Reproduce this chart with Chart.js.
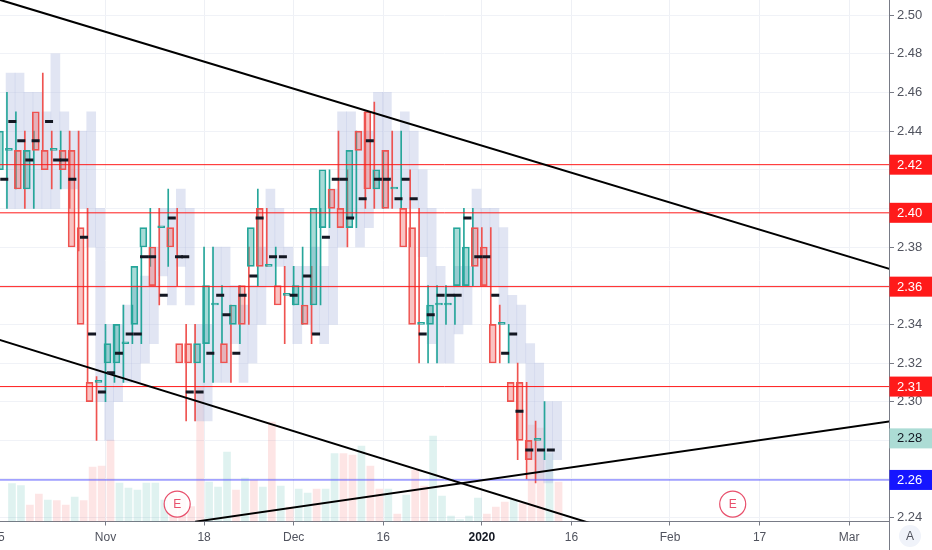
<!DOCTYPE html>
<html>
<head>
<meta charset="utf-8">
<script src="https://cdn.jsdelivr.net/npm/chart.js@4.4.1/dist/chart.umd.min.js"></script>
<style>
html, body { margin: 0; padding: 0; background: #fff; }
#wrap { width: 932px; height: 550px; position: relative; }
</style>
</head>
<body>
<div id="wrap"><canvas id="chart"></canvas></div>
<script>
// trading days shown as candles
const days = ['Oct 16','Oct 17','Oct 18','Oct 21','Oct 22','Oct 23','Oct 24','Oct 25','Oct 28','Oct 29','Oct 30','Oct 31',
  'Nov 1','Nov 4','Nov 5','Nov 6','Nov 7','Nov 8','Nov 11','Nov 12','Nov 13','Nov 14','Nov 15','Nov 18','Nov 19','Nov 20','Nov 21','Nov 22','Nov 25','Nov 26','Nov 27','Nov 28','Nov 29',
  'Dec 2','Dec 3','Dec 4','Dec 5','Dec 6','Dec 9','Dec 10','Dec 11','Dec 12','Dec 13','Dec 16','Dec 17','Dec 18','Dec 19','Dec 20','Dec 23','Dec 24','Dec 26','Dec 27','Dec 30','Dec 31',
  'Jan 2','Jan 3','Jan 6','Jan 7','Jan 8','Jan 9','Jan 10','Jan 13'];
const firstPos = -12; // bar index of Oct 16, Nov 1 = 0

const openP = [2.42, 2.42, 2.43, 2.43, 2.41, 2.45, 2.43, 2.43, 2.43, 2.43, 2.39, 2.31,
  2.31, 2.32, 2.32, 2.33, 2.34, 2.38, 2.38, 2.39, 2.39, 2.33, 2.33, 2.32,
  2.33, 2.35, 2.33, 2.34, 2.36, 2.37, 2.40, 2.37, 2.36, 2.355, 2.35, 2.35,
  2.35, 2.39, 2.41, 2.40, 2.39, 2.44, 2.45, 2.41, 2.43, 2.41, 2.40, 2.39,
  2.34, 2.34, 2.35, 2.35, 2.36, 2.36, 2.39, 2.38, 2.34, 2.34, 2.31, 2.31, 2.28, 2.28];
const highP = [2.43, 2.46, 2.45, 2.44, 2.44, 2.47, 2.44, 2.44, 2.44, 2.44, 2.40, 2.313,
  2.34, 2.34, 2.35, 2.35, 2.38, 2.40, 2.40, 2.41, 2.40, 2.34, 2.34, 2.38,
  2.38, 2.36, 2.35, 2.36, 2.38, 2.41, 2.40, 2.38, 2.37, 2.37, 2.38, 2.37,
  2.40, 2.42, 2.44, 2.42, 2.44, 2.45, 2.455, 2.43, 2.44, 2.44, 2.42, 2.40,
  2.36, 2.36, 2.36, 2.355, 2.40, 2.40, 2.39, 2.39, 2.35, 2.34, 2.32, 2.31, 2.29, 2.30];
const lowP = [2.40, 2.40, 2.41, 2.40, 2.40, 2.43, 2.41, 2.41, 2.40, 2.378, 2.31, 2.28,
  2.30, 2.31, 2.31, 2.33, 2.33, 2.37, 2.35, 2.37, 2.36, 2.29, 2.29, 2.31,
  2.31, 2.33, 2.31, 2.33, 2.34, 2.36, 2.37, 2.36, 2.33, 2.35, 2.34, 2.33,
  2.35, 2.39, 2.40, 2.38, 2.39, 2.40, 2.40, 2.40, 2.40, 2.40, 2.38, 2.32,
  2.32, 2.32, 2.34, 2.34, 2.36, 2.36, 2.36, 2.34, 2.32, 2.32, 2.27, 2.26, 2.258, 2.27];
const closeP = [2.41, 2.44, 2.431, 2.41, 2.43, 2.43, 2.42, 2.431, 2.42, 2.38, 2.34, 2.30,
  2.311, 2.33, 2.34, 2.331, 2.37, 2.39, 2.36, 2.391, 2.38, 2.32, 2.32, 2.33,
  2.36, 2.351, 2.32, 2.35, 2.34, 2.39, 2.37, 2.371, 2.35, 2.356, 2.36, 2.34,
  2.40, 2.42, 2.40, 2.39, 2.43, 2.43, 2.41, 2.42, 2.40, 2.411, 2.38, 2.34,
  2.341, 2.35, 2.351, 2.351, 2.39, 2.38, 2.37, 2.36, 2.32, 2.341, 2.30, 2.28, 2.27, 2.281];

// compare symbol range (light boxes)
const shadowHigh = [2.47, 2.47, 2.46, 2.46, 2.45, 2.48, 2.45, 2.44, 2.44, 2.45, 2.40, 2.34,
  2.34, 2.35, 2.36, 2.365, 2.38, 2.40, 2.40, 2.41, 2.40, 2.34, 2.34, 2.38,
  2.38, 2.36, 2.35, 2.36, 2.38, 2.41, 2.40, 2.38, 2.37, 2.37, 2.38, 2.37,
  2.41, 2.45, 2.45, 2.44, 2.44, 2.46, 2.46, 2.44, 2.45, 2.44, 2.42, 2.40,
  2.37, 2.36, 2.37, 2.37, 2.41, 2.40, 2.40, 2.39, 2.355, 2.35, 2.33, 2.32, 2.30, 2.30];
const shadowLow = [2.40, 2.40, 2.40, 2.40, 2.40, 2.40, 2.41, 2.41, 2.40, 2.38, 2.30, 2.28,
  2.30, 2.31, 2.31, 2.32, 2.33, 2.365, 2.35, 2.37, 2.35, 2.29, 2.29, 2.31,
  2.31, 2.33, 2.31, 2.32, 2.34, 2.36, 2.37, 2.36, 2.33, 2.34, 2.335, 2.33,
  2.34, 2.38, 2.395, 2.38, 2.39, 2.40, 2.40, 2.40, 2.40, 2.40, 2.375, 2.33,
  2.32, 2.32, 2.335, 2.34, 2.36, 2.36, 2.36, 2.34, 2.32, 2.32, 2.27, 2.26, 2.258, 2.27];

// volume (thousands) and direction
const volume = [380, 360, 165, 275, 215, 210, 165, 245, 210, 545, 555, 815,
  385, 335, 315, 385, 385, 215, 265, 265, 150, 1350, 395, 345,
  695, 315, 435, 415, 345, 995, 355, 145, 325, 285, 325, 325,
  680, 680, 665, 755, 555, 325, 325, 75, 265, 515, 355, 855,
  255, 55, 20, 55, 235, 75, 145, 195, 215, 180, 965, 935, 680, 395];
const volDir = 'uudduddudddduuuuuudddduuududududuuduudduddududduuuuuudddudddu'.split('');

// black dash marks
const dashPos = [-11.3, -10.4, -9.4, -8.5, -7.8, -6.3, -5.4, -4.6, -3.7, -2.4, -1.5, -0.4, 0.6, 1.5, 2.7, 3.6,
  4.3, 5.2, 6.5, 7.4, 8.2, 8.9, 9.4, 10.5, 11.7, 12.8, 13.5, 14.6, 15.3, 16.5, 17.2, 18.7, 19.8, 21.0,
  22.5, 23.5, 24.6, 25.7, 26.6, 27.3, 28.7, 29.5, 30.4, 31.4, 32.7, 33.5, 34.4, 35.4, 36.3, 37.4, 38.5,
  39.3, 40.4, 41.6, 42.5, 43.5, 44.6, 45.5, 46.2, 47.3, 48.6, 49.7];
const dashVal = [2.415, 2.445, 2.435, 2.425, 2.435, 2.445, 2.425, 2.425, 2.415, 2.385, 2.335, 2.305, 2.315, 2.325, 2.335, 2.335,
  2.375, 2.375, 2.355, 2.395, 2.375, 2.375, 2.305, 2.305, 2.325, 2.355, 2.345, 2.325, 2.355, 2.365, 2.395, 2.375, 2.375, 2.355,
  2.365, 2.335, 2.385, 2.415, 2.415, 2.395, 2.405, 2.435, 2.415, 2.415, 2.405, 2.415, 2.405, 2.335, 2.345, 2.355, 2.355,
  2.355, 2.395, 2.375, 2.375, 2.355, 2.325, 2.335, 2.295, 2.275, 2.275, 2.275];

// horizontal levels
const levels = [2.4226, 2.3977, 2.3595, 2.3078];
const levelLabels = ['2.42', '2.40', '2.36', '2.31'];
const supportLevel = 2.2595;
const supportLabel = '2.26';

// trend lines [index, price]
const trendStart = [[-12, 2.5082], [-12, 2.3322], [10, 2.2379]];
const trendEnd = [[88, 2.3680], [56, 2.2344], [88, 2.2901]];

// earnings markers
const earnPos = [8, 70];
const earnPrice = 2.247;

// axes
const xTickPos = [-12, 0, 11, 21, 31, 42, 52, 63, 73, 83];
const xTickText = ['15', 'Nov', '18', 'Dec', '16', '2020', '16', 'Feb', '17', 'Mar'];
const yTicks = [2.24, 2.26, 2.28, 2.30, 2.32, 2.34, 2.36, 2.38, 2.40, 2.42, 2.44, 2.46, 2.48, 2.50];

const X_MIN = -11.775, X_MAX = 87.444;
const Y_MIN = 2.2380, Y_MAX = 2.5078;

const UP = '#26a69a', DN = '#ef5350';
const UP_FILL = 'rgba(38,166,154,0.4)', DN_FILL = 'rgba(239,83,80,0.35)';
const RED_LINE = '#ff1a1a';

Chart.defaults.font.family = '"Liberation Sans", Arial, sans-serif';

const pos = days.map((d, k) => k + firstPos);
function isUp(k) { return closeP[k] >= openP[k]; }

function hiddenX() {
    return { type: 'linear', min: X_MIN, max: X_MAX, offset: false, display: false };
}

var datasets = [];

// black dashes on top
datasets.push({
    type: 'line', xAxisID: 'x', yAxisID: 'y', order: 0, showLine: false,
    data: dashPos.map((p, k) => ({ x: p, y: dashVal[k] })),
    pointStyle: 'line', pointRadius: 4, pointHoverRadius: 4,
    pointBorderColor: '#131722', pointBorderWidth: 3
});

// earnings circles
datasets.push({
    type: 'line', xAxisID: 'x', yAxisID: 'y', order: 0, showLine: false,
    data: earnPos.map(p => ({ x: p, y: earnPrice })),
    pointStyle: 'circle', pointRadius: 13, pointHoverRadius: 13,
    pointBorderColor: '#e8506c', pointBorderWidth: 1.2,
    pointBackgroundColor: 'rgba(255,255,255,0.85)'
});

// trend lines
trendStart.forEach((s, k) => {
    datasets.push({
        type: 'line', xAxisID: 'x', yAxisID: 'y', order: 1,
        data: [{ x: s[0], y: s[1] }, { x: trendEnd[k][0], y: trendEnd[k][1] }],
        borderColor: '#000', borderWidth: 2, pointRadius: 0
    });
});

// horizontal levels
levels.forEach(v => {
    datasets.push({
        type: 'line', xAxisID: 'x', yAxisID: 'y', order: 2,
        data: [{ x: -12, y: v }, { x: 88, y: v }],
        borderColor: RED_LINE, borderWidth: 1, pointRadius: 0
    });
});
datasets.push({
    type: 'line', xAxisID: 'x', yAxisID: 'y', order: 2,
    data: [{ x: -12, y: supportLevel }, { x: 88, y: supportLevel }],
    borderColor: '#5a5aff', borderWidth: 1, pointRadius: 0
});

// candle bodies
datasets.push({
    type: 'bar', xAxisID: 'xb', yAxisID: 'y', order: 3,
    data: pos.map((p, k) => ({ x: p, y: [openP[k], closeP[k]] })),
    backgroundColor: c => isUp(c.dataIndex) ? UP_FILL : DN_FILL,
    borderColor: c => isUp(c.dataIndex) ? UP : DN,
    borderWidth: 1, borderSkipped: false, barThickness: 7, minBarLength: 1
});

// wicks
datasets.push({
    type: 'bar', xAxisID: 'xw', yAxisID: 'y', order: 4,
    data: pos.map((p, k) => ({ x: p, y: [lowP[k], highP[k]] })),
    backgroundColor: c => isUp(c.dataIndex) ? UP : DN,
    barThickness: 1
});

// light range boxes
datasets.push({
    type: 'bar', xAxisID: 'xs', yAxisID: 'y', order: 6,
    data: pos.map((p, k) => ({ x: p + 0.4, y: [shadowLow[k], shadowHigh[k]] })),
    backgroundColor: 'rgba(180,190,225,0.4)',
    barThickness: 9
});

// volume
datasets.push({
    type: 'bar', xAxisID: 'xv', yAxisID: 'yv', order: 7,
    data: pos.map((p, k) => ({ x: p, y: volume[k] })),
    backgroundColor: c => volDir[c.dataIndex] === 'u' ? 'rgba(38,166,154,0.15)' : 'rgba(239,83,80,0.15)',
    barThickness: 7
});

const overlay = {
    id: 'overlay',
    afterDraw(chart) {
        const { ctx, chartArea } = chart;
        const x = chart.scales.x, y = chart.scales.y;
        ctx.save();

        // E letters
        ctx.fillStyle = '#e8506c';
        ctx.font = '12px "Liberation Sans", Arial';
        ctx.textAlign = 'center';
        ctx.textBaseline = 'middle';
        earnPos.forEach(p => {
            ctx.fillText('E', x.getPixelForValue(p), y.getPixelForValue(earnPrice) + 0.5);
        });

        // price axis line down through the time axis
        ctx.strokeStyle = '#787b86';
        ctx.lineWidth = 1;
        ctx.beginPath();
        ctx.moveTo(Math.round(chartArea.right) + 0.5, chartArea.bottom);
        ctx.lineTo(Math.round(chartArea.right) + 0.5, chart.height);
        ctx.stroke();

        function tag(val, text, bg, fg) {
            const py = y.getPixelForValue(val);
            ctx.fillStyle = bg;
            ctx.fillRect(chartArea.right + 0.5, py - 10, chart.width - chartArea.right, 20);
            ctx.fillStyle = fg;
            ctx.font = '13px "Liberation Sans", Arial';
            ctx.textAlign = 'left';
            ctx.textBaseline = 'middle';
            ctx.fillText(text, chartArea.right + 8, py + 0.5);
        }
        levels.forEach((v, k) => tag(v, levelLabels[k], RED_LINE, '#fff'));
        const last = closeP[closeP.length - 1];
        tag(last, last.toFixed(2), '#acdcd5', '#131722');
        tag(supportLevel, supportLabel, '#1515ff', '#fff');

        // auto-scale button
        ctx.fillStyle = '#f0f3fa';
        ctx.beginPath();
        ctx.arc(910, 536, 11, 0, Math.PI * 2);
        ctx.fill();
        ctx.fillStyle = '#50535e';
        ctx.font = '12px "Liberation Sans", Arial';
        ctx.textAlign = 'center';
        ctx.fillText('A', 910, 536.5);
        ctx.restore();
    }
};

var ctx = document.getElementById('chart').getContext('2d');
var priceChart = new Chart(ctx, {
    type: 'bar',
    data: { datasets: datasets },
    plugins: [overlay],
    options: {
        responsive: true,
        maintainAspectRatio: false,
        animation: false,
        events: [],
        layout: { padding: 0, autoPadding: false },
        plugins: {
            legend: { display: false },
            tooltip: { enabled: false }
        },
        scales: {
            x: {
                type: 'linear', position: 'bottom', min: X_MIN, max: X_MAX, offset: false,
                grid: { color: '#eef0f5', tickLength: 4, tickColor: '#787b86', offset: false },
                border: { color: '#787b86' },
                ticks: {
                    autoSkip: false, maxRotation: 0, padding: 5,
                    callback: (v, i) => xTickText[i],
                    color: c => xTickText[c.index] === '2020' ? '#131722' : '#50535e',
                    font: c => ({ size: 12, weight: xTickText[c.index] === '2020' ? 'bold' : 'normal' })
                },
                afterBuildTicks: s => { s.ticks = xTickPos.map(v => ({ value: v })); },
                afterFit: s => { s.height = 28.5; s.paddingLeft = 0; s.paddingRight = 0; }
            },
            xb: hiddenX(),
            xw: hiddenX(),
            xs: hiddenX(),
            xv: hiddenX(),
            y: {
                type: 'linear', position: 'right', min: Y_MIN, max: Y_MAX,
                grid: { color: '#f0f2f7', tickLength: 5, tickColor: '#787b86' },
                border: { color: '#787b86' },
                ticks: {
                    padding: 3, color: '#50535e', font: { size: 13 },
                    callback: v => v.toFixed(2)
                },
                afterBuildTicks: s => { s.ticks = yTicks.map(v => ({ value: v })); },
                afterFit: s => { s.width = 43; s.paddingTop = 0; s.paddingBottom = 0; }
            },
            yv: { type: 'linear', display: false, min: 0, max: 5215 }
        }
    }
});
</script>
</body>
</html>
